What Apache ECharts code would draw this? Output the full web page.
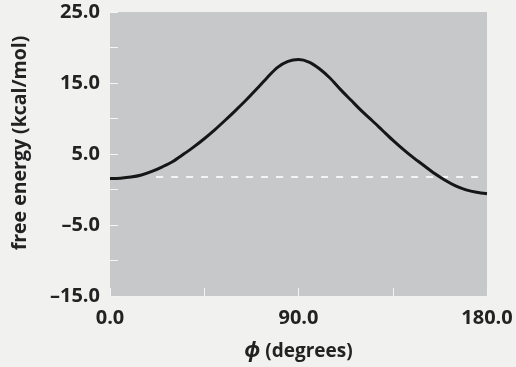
<!DOCTYPE html>
<html>
<head>
<meta charset="utf-8">
<script src="https://cdn.jsdelivr.net/npm/echarts@6/dist/echarts.min.js"></script>
<style>
html,body{margin:0;padding:0;background:#f1f2f0;}
#c{width:516px;height:367px;}
</style>
</head>
<body>
<div id="c"></div>
<script>
// Data
var phiDegrees = [0, 5, 10, 15, 20, 25, 30, 35, 40, 45, 50, 55, 60, 65, 70, 75, 80, 85, 90,
                  95, 100, 105, 110, 115, 120, 125, 130, 135, 140, 145, 150, 155, 160, 165, 170, 175, 180];
var freeEnergy = [1.55, 1.6, 1.75, 2.05, 2.55, 3.2, 3.95, 4.95, 6.0, 7.15, 8.4, 9.75, 11.15, 12.6, 14.15, 15.75, 17.2, 18.05, 18.3,
                  17.95, 17.0, 15.7, 14.1, 12.6, 11.1, 9.75, 8.35, 6.95, 5.65, 4.45, 3.35, 2.25, 1.3, 0.5, -0.05, -0.4, -0.6];
var referenceX = [22, 178];
var referenceLevel = 1.75;
var yLabelValues = [-15, -5, 5, 15, 25];
var xLabelValues = [0, 90, 180];

var chart = echarts.init(document.getElementById('c'), null, {renderer: 'canvas'});
var fontFam = '"Open Sans", "Noto Sans", sans-serif';

chart.setOption({
  backgroundColor: '#f1f2f0',
  animation: false,
  grid: {
    left: 110, top: 12, right: 29, bottom: 70,
    show: true, backgroundColor: '#c7c8c9', borderWidth: 0
  },
  xAxis: {
    type: 'value', min: 0, max: 180, interval: 45,
    axisLine: {show: false, onZero: false},
    axisTick: {show: true, inside: true, length: 8, lineStyle: {color: '#f4f4f4', width: 1}},
    splitLine: {show: false},
    axisLabel: {
      margin: 12,
      color: '#222', fontFamily: fontFam, fontWeight: 'bold', fontSize: 20,
      formatter: function (v) { return xLabelValues.indexOf(v) >= 0 ? v.toFixed(1) : ''; }
    },
    name: '{i|ϕ} (degrees)',
    nameLocation: 'middle', nameGap: 45,
    nameTextStyle: {
      color: '#222', fontFamily: fontFam, fontWeight: 'bold', fontSize: 19,
      rich: {i: {fontStyle: 'italic', fontWeight: 'bold', fontSize: 21, fontFamily: fontFam, color: '#222'}}
    }
  },
  yAxis: {
    type: 'value', min: -15, max: 25, interval: 5,
    axisLine: {show: false, onZero: false},
    axisTick: {show: true, inside: true, length: 8, lineStyle: {color: '#f4f4f4', width: 1}},
    splitLine: {show: false},
    axisLabel: {
      margin: 10,
      color: '#222', fontFamily: fontFam, fontWeight: 'bold', fontSize: 20,
      formatter: function (v) {
        if (yLabelValues.indexOf(v) < 0) return '';
        return (v < 0 ? '\u2013' + Math.abs(v).toFixed(1) : v.toFixed(1));
      }
    },
    name: 'free energy (kcal/mol)',
    nameLocation: 'middle', nameGap: 80,
    nameTextStyle: {
      color: '#222', fontFamily: fontFam, fontWeight: 'bold', fontSize: 19.5,
      padding: [0, 0, 0, 22]
    }
  },
  series: [
    {
      type: 'line',
      data: referenceX.map(function (x) { return [x, referenceLevel]; }),
      showSymbol: false, silent: true,
      lineStyle: {color: '#f4f4f4', width: 2, type: [7, 8]},
      z: 2
    },
    {
      type: 'line',
      data: phiDegrees.map(function (x, i) { return [x, freeEnergy[i]]; }),
      smooth: 0.3, showSymbol: false, silent: true,
      lineStyle: {color: '#161616', width: 3},
      z: 3
    }
  ]
});
</script>
</body>
</html>
